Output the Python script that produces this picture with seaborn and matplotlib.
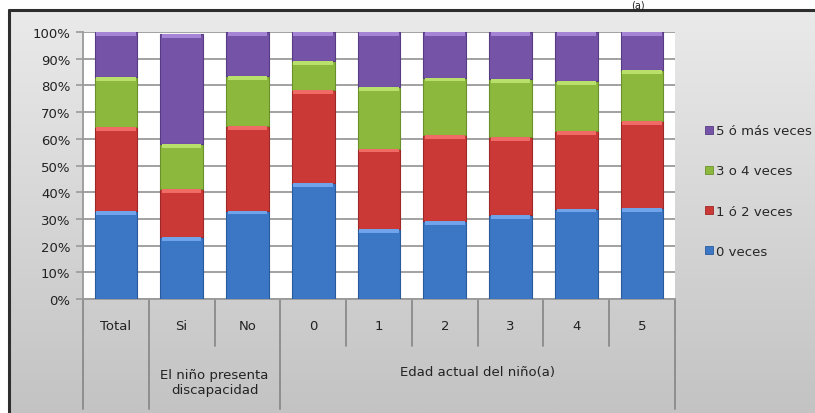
import numpy as np
import pandas as pd
import matplotlib
matplotlib.use("Agg")
import matplotlib.pyplot as plt
import seaborn as sns
from matplotlib.patches import Patch
from matplotlib.lines import Line2D
import matplotlib.transforms as mtransforms

# ---- data (percent of children) ----
categories = ["Total", "Si", "No", "0", "1", "2", "3", "4", "5"]
cero_veces = [33.0, 23.1, 33.1, 43.5, 26.3, 29.1, 31.3, 33.8, 34.0]
uno_dos = [31.4, 18.1, 31.7, 34.6, 30.0, 32.2, 29.3, 29.0, 32.5]
tres_cuatro = [18.7, 16.9, 18.7, 11.0, 23.1, 21.6, 21.7, 18.7, 19.1]
cinco_mas = [16.9, 41.0, 16.5, 10.9, 20.6, 17.1, 17.7, 18.5, 14.4]

series_names = ["0 veces", "1 ó 2 veces", "3 o 4 veces", "5 ó más veces"]
series_values = [cero_veces, uno_dos, tres_cuatro, cinco_mas]
series_colors = ["#3c77c5", "#cb3937", "#8cb93d", "#7553a7"]
series_edges = ["#2a5a9e", "#9e2826", "#6a9129", "#573c84"]
series_light = ["#6fa4ea", "#f06a66", "#b8e06a", "#a584d6"]

group_labels = ["El niño presenta\ndiscapacidad", "Edad actual del niño(a)"]
yticks = [0, 10, 20, 30, 40, 50, 60, 70, 80, 90, 100]

W, H = 815, 414
fig = plt.figure(figsize=(W / 100, H / 100), dpi=100)
sns.set_style("white")
plt.rcParams["font.family"] = ["DejaVu Sans"]

# background panel with vertical grey gradient
bg = fig.add_axes([0, 0, 1, 1], zorder=-10)
grad = np.linspace(0, 1, 256).reshape(-1, 1)
bg.imshow(grad, aspect="auto", cmap=matplotlib.colors.LinearSegmentedColormap.from_list(
    "bg", ["#ebebeb", "#c3c3c3"]), extent=[0, 1, 0, 1], origin="upper")
bg.set_axis_off()

# white margin above and left of the frame
fig.patches.append(matplotlib.patches.Rectangle((0, 1 - 11 / H), 1, 11 / H, transform=fig.transFigure,
                                                 facecolor="white", edgecolor="none", zorder=-5))
fig.patches.append(matplotlib.patches.Rectangle((0, 0), 9 / W, 1, transform=fig.transFigure,
                                                 facecolor="white", edgecolor="none", zorder=-5))
# frame
fig.lines.append(Line2D([9 / W, 9 / W], [0, 1 - 11 / H], transform=fig.transFigure, color="#2e2e2e", lw=2.2))
fig.lines.append(Line2D([9 / W, 1], [1 - 11 / H, 1 - 11 / H], transform=fig.transFigure, color="#2e2e2e", lw=2.2))

# panel title in the top margin
fig.text(638 / W, 1 - 5.5 / H, "(a)", ha="center", va="center", fontsize=7, color="#222222")

left, right = 83 / W, 675 / W
bottom, top = 1 - 300 / H, 1 - 33 / H
ax = fig.add_axes([left, bottom, right - left, top - bottom])
ax.set_facecolor("white")

df = pd.DataFrame({"categoria": categories})
base = np.zeros(len(categories))
for name, vals, col, ec, lc in zip(series_names, series_values, series_colors, series_edges, series_light):
    vals = np.array(vals)
    df["valor"] = vals
    sns.barplot(data=df, x="categoria", y="valor", order=categories, bottom=base.copy(),
                color=col, edgecolor=ec, linewidth=0.8, width=0.65, saturation=1,
                ax=ax, zorder=3)
    # bevel highlight along the top of each segment
    hl = np.minimum(1.4, vals)
    df["valor"] = hl
    sns.barplot(data=df, x="categoria", y="valor", order=categories, bottom=base + vals - hl,
                color=lc, edgecolor="none", linewidth=0, width=0.6, saturation=1,
                ax=ax, zorder=4)
    base = base + vals

ax.set_xlim(-0.5, len(categories) - 0.5)
ax.set_ylim(0, 100)
ax.set_yticks(yticks)
ax.set_yticklabels([f"{t}%" for t in yticks], fontsize=9.5, color="#222222")
ax.yaxis.grid(True, color="#9a9a9a", lw=1.3, zorder=0)
ax.set_axisbelow(True)
ax.tick_params(axis="y", length=5, color="#9a9a9a", width=1.2, pad=4, left=True)
ax.set_xticks([])
ax.set_xlabel("")
ax.set_ylabel("")
for s in ["top", "right"]:
    ax.spines[s].set_visible(False)
ax.spines["left"].set_color("#9a9a9a")
ax.spines["left"].set_linewidth(1.3)
ax.spines["bottom"].set_color("#9a9a9a")
ax.spines["bottom"].set_linewidth(1.3)

# two-level category axis
trans = mtransforms.blended_transform_factory(ax.transData, ax.transAxes)
short_len = -47 / 267
long_len = -110 / 267
for i, cat in enumerate(categories):
    ax.text(i, -27 / 267, cat, transform=trans, ha="center", va="center", fontsize=9.5, color="#222222")
long_sep = {0, 1, 3, 9}
for k in range(len(categories) + 1):
    y1 = long_len if k in long_sep else short_len
    ax.add_line(Line2D([k - 0.5, k - 0.5], [0, y1], transform=trans, color="#8a8a8a", lw=1.3,
                       clip_on=False))
ax.text(1.5, -83 / 267, group_labels[0], transform=trans, ha="center", va="center",
        fontsize=9.5, color="#222222", linespacing=1.2)
ax.text(5.5, -73 / 267, group_labels[1], transform=trans, ha="center", va="center",
        fontsize=9.5, color="#222222")

# legend, top entry is the top segment
handles = [Patch(facecolor=c, edgecolor=e, lw=0.6) for c, e in zip(series_colors, series_edges)][::-1]
fig.legend(handles, series_names[::-1], loc="center left", bbox_to_anchor=(700 / W, 1 - 192 / H),
           frameon=False, fontsize=9.5, handlelength=0.55, handleheight=0.55, handletextpad=0.3,
           labelspacing=2.05, borderaxespad=0)

fig.savefig("out.png", dpi=100)
